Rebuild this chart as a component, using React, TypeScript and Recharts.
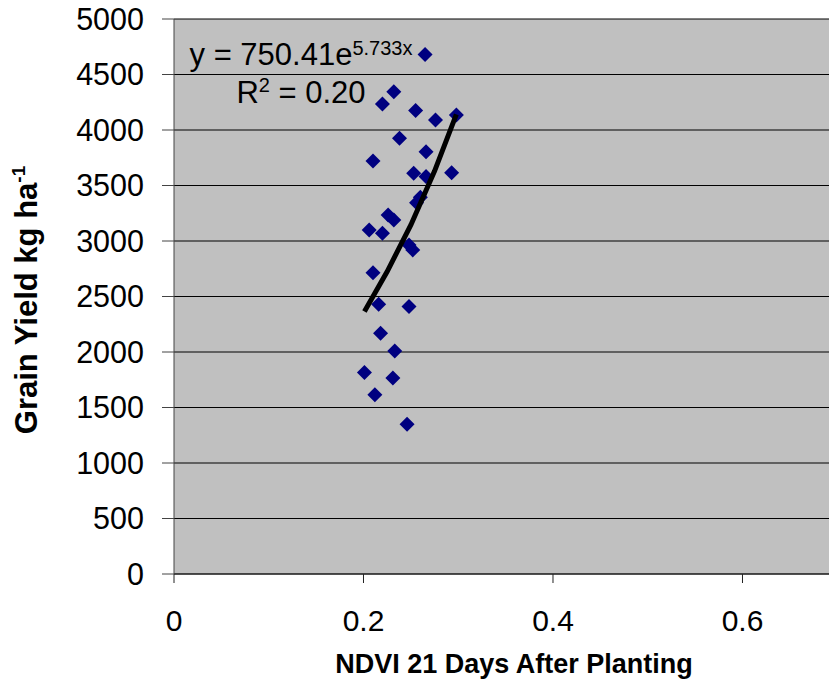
import React from "react"
import { ScatterChart, Scatter, XAxis, YAxis, CartesianGrid } from "recharts"

// NDVI readings and grain yield (kg/ha)
const ndvi = [
  0.265, 0.232, 0.22, 0.255, 0.276, 0.298, 0.238, 0.266, 0.21, 0.253, 0.266,
  0.293, 0.26, 0.256, 0.226, 0.232, 0.206, 0.22, 0.248, 0.252, 0.21, 0.216,
  0.248, 0.218, 0.233, 0.201, 0.231, 0.212, 0.246,
]
const grainYield = [
  4680, 4345, 4235, 4175, 4090, 4135, 3925, 3805, 3720, 3610, 3580, 3615, 3395,
  3345, 3235, 3190, 3100, 3070, 2965, 2920, 2715, 2430, 2410, 2170, 2010, 1815,
  1765, 1615, 1350,
]

// exponential trendline, sampled along the drawn curve
const trendNdvi = [0.201, 0.225, 0.25, 0.275, 0.298]
const trendYield = [2365, 2725, 3145, 3630, 4140]

const xTicks = [0, 0.2, 0.4, 0.6]
const yTicks = [0, 500, 1000, 1500, 2000, 2500, 3000, 3500, 4000, 4500, 5000]

const points = ndvi.map((x, i) => ({ x, y: grainYield[i] }))
const trend = trendNdvi.map((x, i) => ({ x, y: trendYield[i] }))

const FONT = "Arial, 'Liberation Sans', sans-serif"

const Diamond = (props: any) => {
  const { cx, cy } = props
  const r = 7.5
  return (
    <polygon
      points={`${cx},${cy - r} ${cx + r},${cy} ${cx},${cy + r} ${cx - r},${cy}`}
      fill="#000080"
    />
  )
}

const NoDot = () => <g />

export default function App() {
  return (
    <div style={{ width: 829, height: 685 }}>
      <style>{"body{margin:0;overflow:hidden}"}</style>
      <ScatterChart
        width={829}
        height={685}
        margin={{ top: 19, right: 0, bottom: 0, left: 0 }}
        style={{ fontFamily: FONT }}
      >
        <CartesianGrid
          fill="#C0C0C0"
          stroke="#000"
          vertical={false}
          horizontalValues={yTicks}
        />
        <XAxis
          type="number"
          dataKey="x"
          domain={[0, 0.6913]}
          ticks={xTicks}
          allowDataOverflow
          height={111}
          tickSize={9}
          tickMargin={27}
          stroke="#222"
          tick={{ fill: "#000", fontSize: 30 }}
          tickFormatter={(v) => String(v)}
        />
        <YAxis
          type="number"
          dataKey="y"
          domain={[0, 5000]}
          ticks={yTicks}
          width={174}
          tickSize={12}
          tickMargin={18}
          stroke="#444"
          tick={{ fill: "#000", fontSize: 30.5 }}
        />
        <Scatter data={points} shape={Diamond} isAnimationActive={false} />
        <Scatter
          data={trend}
          line={{ stroke: "#000", strokeWidth: 5 }}
          shape={NoDot}
          isAnimationActive={false}
        />
        <text x={301} y={65} textAnchor="middle" fontSize={31} fill="#000" fontFamily={FONT}>
          y = 750.41e
          <tspan fontSize={20} dy={-10}>5.733x</tspan>
        </text>
        <text x={301} y={103} textAnchor="middle" fontSize={31} fill="#000" fontFamily={FONT}>
          R<tspan fontSize={20} dy={-11}>2</tspan>
          <tspan dy={11}> = 0.20</tspan>
        </text>
        <text
          x={514}
          y={673}
          textAnchor="middle"
          fontSize={27}
          fontWeight="bold"
          fill="#000"
          fontFamily={FONT}
        >
          NDVI 21 Days After Planting
        </text>
        <text
          transform="translate(37,300) rotate(-90)"
          textAnchor="middle"
          fontSize={31}
          fontWeight="bold"
          fill="#000"
          fontFamily={FONT}
        >
          Grain Yield kg ha<tspan fontSize={19} dy={-12}>-1</tspan>
        </text>
      </ScatterChart>
    </div>
  )
}
